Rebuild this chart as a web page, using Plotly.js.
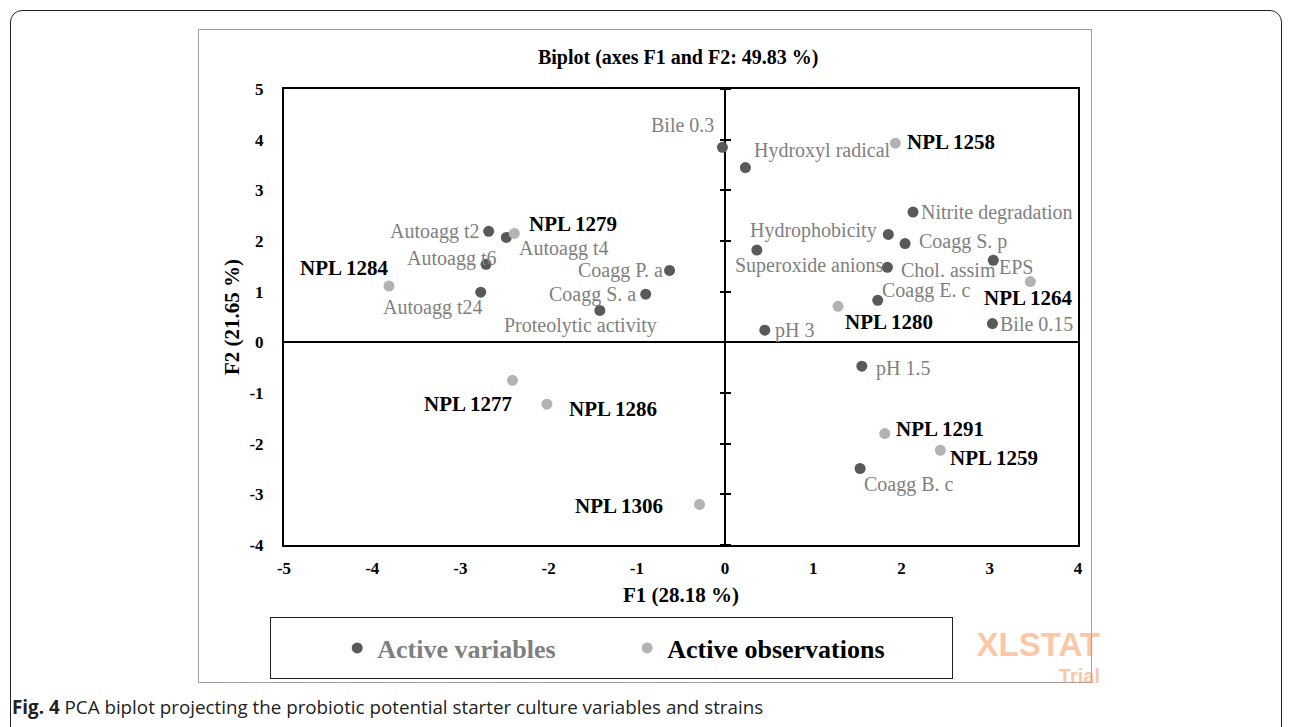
<!DOCTYPE html>
<html>
<head>
<meta charset="utf-8">
<script src="https://cdn.plot.ly/plotly-3.0.1.min.js"></script>
<style>
  html, body { margin: 0; padding: 0; background: #fff; }
  body { width: 1292px; height: 727px; position: relative; overflow: hidden; }
  #outer { position: absolute; left: 10px; top: 10px; width: 1272px; height: 760px;
           border: 1.5px solid #222; border-radius: 12px; box-sizing: border-box; }
  #inner { position: absolute; left: 198px; top: 29px; width: 894px; height: 654px;
           border: 1px solid #a0a0a0; box-sizing: border-box; }
  #legbox { position: absolute; left: 270px; top: 617px; width: 683px; height: 62px;
            border: 1.3px solid #222; box-sizing: border-box; }
  #wm1 { position: absolute; right: 192px; top: 627px;
         font: bold 33px "Liberation Sans", Arial, sans-serif; line-height: 36.9px;
         color: rgba(247,150,90,0.55); }
  #wm2 { position: absolute; right: 192px; top: 664.5px;
         font: bold 20px "Liberation Sans", Arial, sans-serif; line-height: 22.3px;
         color: rgba(247,150,90,0.55); }
  #cap { position: absolute; left: 12px; top: 694px; font: 18.8px "Open Sans", sans-serif; color: #222; white-space: nowrap; }
  #chart { position: absolute; left: 0; top: 0; width: 1292px; height: 727px; }
</style>
</head>
<body>
<div id="outer"></div>
<div id="inner"></div>
<div id="legbox"></div>
<div id="wm1">XLSTAT</div>
<div id="wm2">Trial</div>
<div id="cap"><b>Fig. 4</b> PCA biplot projecting the probiotic potential starter culture variables and strains</div>
<div id="chart"></div>
<script>
// ---- Data ----
const varNames = ["Bile 0.3", "Hydroxyl radical", "Nitrite degradation", "Hydrophobicity", "Coagg S. p",
  "Superoxide anions", "Chol. assim", "EPS", "Coagg E. c", "pH 3", "Bile 0.15", "pH 1.5", "Coagg B. c",
  "Autoagg t2", "Autoagg t4", "Autoagg t6", "Autoagg t24", "Coagg P. a", "Coagg S. a", "Proteolytic activity"];
const varF1 = [-0.03, 0.23, 2.13, 1.85, 2.04, 0.36, 1.84, 3.04, 1.73, 0.45, 3.03, 1.55, 1.53,
  -2.68, -2.48, -2.71, -2.77, -0.63, -0.90, -1.42];
const varF2 = [3.85, 3.45, 2.57, 2.13, 1.95, 1.82, 1.48, 1.62, 0.83, 0.24, 0.37, -0.47, -2.49,
  2.19, 2.07, 1.54, 0.99, 1.42, 0.95, 0.63];

const obsNames = ["NPL 1258", "NPL 1264", "NPL 1280", "NPL 1279", "NPL 1284", "NPL 1277", "NPL 1286",
  "NPL 1306", "NPL 1291", "NPL 1259"];
const obsF1 = [1.93, 3.46, 1.28, -2.39, -3.81, -2.41, -2.02, -0.29, 1.81, 2.44];
const obsF2 = [3.93, 1.20, 0.71, 2.15, 1.11, -0.75, -1.22, -3.20, -1.80, -2.13];

const xTicks = [-5, -4, -3, -2, -1, 0, 1, 2, 3, 4];
const yTicks = [-4, -3, -2, -1, 0, 1, 2, 3, 4, 5];

// ---- Label placement styles (anchor, x shift px, y shift px) ----
const varLab = [
  ["right", -6, 22], ["left", 7, 17], ["left", 6, 0], ["right", -9, 4], ["left", 12, 2],
  ["left", -24, -15], ["left", 12, -3], ["left", 4, -7], ["left", 2, 10], ["left", 8, 0],
  ["left", 6, 0], ["left", 12, -2], ["left", 2, -16],
  ["right", -8, 0], ["left", 11, -11], ["right", 12, 6], ["right", 3, -15], ["right", -5, 0],
  ["right", -8, 0], ["center", -19, -15]
];
const obsLab = [
  ["left", 10, 1], ["center", -2, -16], ["left", 5, -16], ["left", 13, 9], ["right", 2, 18],
  ["right", 1, -24], ["left", 20, -5], ["right", -35, -2], ["left", 9, 5], ["left", 8, -8]
];

const serif = "Liberation Serif, Times New Roman, serif";
const annotations = [];
varNames.forEach((n, i) => annotations.push({
  x: varF1[i], y: varF2[i], text: n, showarrow: false,
  xanchor: varLab[i][0], yanchor: "middle", xshift: varLab[i][1], yshift: varLab[i][2],
  font: {family: serif, size: 20, color: "#7f7f7f"}
}));
obsNames.forEach((n, i) => annotations.push({
  x: obsF1[i], y: obsF2[i], text: "<b>" + n + "</b>", showarrow: false,
  xanchor: obsLab[i][0], yanchor: "middle", xshift: obsLab[i][1], yshift: obsLab[i][2],
  font: {family: serif, size: 21, color: "#000"}
}));

const traces = [
  {x: varF1, y: varF2, mode: "markers", type: "scatter", cliponaxis: false,
   name: '<span style="color:#7f7f7f"><b>Active variables</b></span>',
   marker: {color: "#595959", size: 11}},
  {x: obsF1, y: obsF2, mode: "markers", type: "scatter", cliponaxis: false,
   name: "<b>Active observations</b>",
   marker: {color: "#b3b3b3", size: 11}},
  // empty helper traces so the tick axes on the vertical zero line are drawn
  {x: [null], y: [null], yaxis: "y2", type: "scatter", mode: "markers", showlegend: false, hoverinfo: "skip"},
  {x: [null], y: [null], yaxis: "y3", type: "scatter", mode: "markers", showlegend: false, hoverinfo: "skip"}
];

const tickFont = {family: serif, size: 17, color: "#000"};
const layout = {
  width: 1292, height: 727,
  margin: {l: 284, r: 214, t: 89, b: 182},
  paper_bgcolor: "rgba(0,0,0,0)", plot_bgcolor: "rgba(0,0,0,0)",
  title: {text: "<b>Biplot (axes F1 and F2: 49.83 %)</b>", x: 0.4965, xref: "paper",
          y: 1 - 57/727, yref: "container", yanchor: "middle", xanchor: "center",
          font: {family: serif, size: 20, color: "#000"}},
  xaxis: {range: [-5, 4], tickvals: xTicks, ticktext: xTicks.map(v => "<b>" + v + "</b>"), showgrid: false,
          zeroline: true, zerolinecolor: "#000", zerolinewidth: 2,
          showline: true, linecolor: "#000", linewidth: 2, mirror: true, ticks: "",
          tickfont: tickFont, ticklabelstandoff: 7,
          title: {text: "<b>F1 (28.18 %)</b>", font: {family: serif, size: 21, color: "#000"}, standoff: 10}},
  yaxis: {range: [-4, 5], tickvals: yTicks, ticktext: yTicks.map(v => "<b>" + v + "</b>"), showgrid: false,
          zeroline: true, zerolinecolor: "#000", zerolinewidth: 2,
          showline: true, linecolor: "#000", linewidth: 2, mirror: true, ticks: "",
          tickfont: tickFont, ticklabelstandoff: 15,
          title: {text: "<b>F2 (21.65 %)</b>", font: {family: serif, size: 21, color: "#000"}, standoff: 4}},
  yaxis2: {range: [-4, 5], tickvals: yTicks, overlaying: "y", anchor: "free", position: 5/9, side: "left",
           showticklabels: false, showgrid: false, zeroline: false, showline: false,
           ticks: "outside", ticklen: 5, tickwidth: 2, tickcolor: "#000"},
  yaxis3: {range: [-4, 5], tickvals: yTicks, overlaying: "y", anchor: "free", position: 5/9, side: "right",
           showticklabels: false, showgrid: false, zeroline: false, showline: false,
           ticks: "outside", ticklen: 5, tickwidth: 2, tickcolor: "#000"},
  showlegend: true,
  legend: {orientation: "h", x: 0.067, xanchor: "left", y: (545 - 648) / 456, yanchor: "middle",
           bgcolor: "rgba(0,0,0,0)", borderwidth: 0, entrywidth: 245, itemwidth: 30,
           font: {family: serif, size: 26, color: "#000"}},
  annotations: annotations
};

Plotly.newPlot("chart", traces, layout, {displayModeBar: false, staticPlot: true});
</script>
</body>
</html>
